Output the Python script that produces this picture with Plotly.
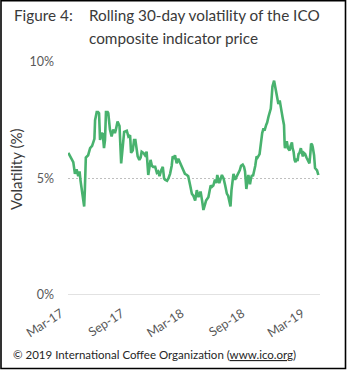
import plotly.graph_objects as go

dates = [
"2017-02-24","2017-03-04","2017-03-11","2017-03-16","2017-03-21","2017-03-26","2017-03-30","2017-04-02","2017-04-06","2017-04-10",
"2017-04-13","2017-04-15","2017-04-18","2017-04-25","2017-05-01","2017-05-07","2017-05-11","2017-05-14","2017-05-16","2017-05-21",
"2017-05-25","2017-05-28","2017-05-31","2017-06-04","2017-06-08","2017-06-12","2017-06-15","2017-06-18","2017-06-23","2017-06-25",
"2017-06-30","2017-07-05","2017-07-10","2017-07-15","2017-07-18","2017-07-23","2017-07-26","2017-07-29","2017-08-03","2017-08-08",
"2017-08-12","2017-08-20","2017-08-25","2017-08-30","2017-09-02","2017-09-07","2017-09-11","2017-09-15","2017-09-19","2017-09-22",
"2017-09-27","2017-10-01","2017-10-04","2017-10-09","2017-10-14","2017-10-19","2017-10-24","2017-10-28","2017-10-31","2017-11-04",
"2017-11-08","2017-11-14","2017-11-19","2017-11-23","2017-11-27","2017-12-02","2017-12-07","2017-12-11","2017-12-14","2017-12-20",
"2017-12-24","2017-12-29","2018-01-03","2018-01-06","2018-01-10","2018-01-13","2018-01-18","2018-01-23","2018-01-28","2018-02-02",
"2018-02-07","2018-02-12","2018-02-18","2018-02-22","2018-02-28","2018-03-05","2018-03-10","2018-03-15","2018-03-20","2018-03-25",
"2018-03-30","2018-04-01","2018-04-05","2018-04-09","2018-04-13","2018-04-17","2018-04-24","2018-04-29","2018-05-01","2018-05-05",
"2018-05-09","2018-05-14","2018-05-18","2018-05-21","2018-05-24","2018-05-27","2018-06-04","2018-06-09","2018-06-14","2018-06-19",
"2018-06-23","2018-06-27","2018-06-30","2018-07-03","2018-07-07","2018-07-09","2018-07-14","2018-07-19","2018-07-24","2018-07-28",
"2018-08-01","2018-08-06","2018-08-10","2018-08-13","2018-08-17","2018-08-20","2018-08-23","2018-08-26","2018-08-28","2018-08-31",
"2018-09-03","2018-09-06","2018-09-10","2018-09-13","2018-09-17","2018-09-20","2018-09-26","2018-09-29","2018-10-01","2018-10-04",
"2018-10-08","2018-10-11","2018-10-16","2018-10-19","2018-10-23","2018-10-26","2018-10-30","2018-11-02","2018-11-04","2018-11-09",
"2018-11-12","2018-11-15","2018-11-18","2018-11-22","2018-11-26","2018-11-29","2018-12-02","2018-12-05","2018-12-09","2018-12-11",
"2018-12-12","2018-12-15","2018-12-18","2018-12-21","2018-12-26","2018-12-29","2019-01-02","2019-01-04","2019-01-07","2019-01-10",
"2019-01-13","2019-01-16","2019-01-19","2019-01-22","2019-01-25","2019-01-29","2019-02-01","2019-02-04","2019-02-07","2019-02-11",
"2019-02-15","2019-02-18","2019-02-21","2019-02-24","2019-02-27","2019-03-01","2019-03-04","2019-03-06","2019-03-10","2019-03-13",
"2019-03-19","2019-03-21","2019-03-23",
]

volatility = [
6.10,5.90,5.70,5.20,5.40,5.10,5.30,4.90,4.40,4.10,
3.80,4.50,5.90,6.00,6.30,6.40,6.60,6.70,7.50,7.85,
7.85,7.80,6.65,6.90,6.95,6.30,6.65,7.85,7.85,7.80,
7.10,6.80,7.10,6.95,7.10,7.45,7.35,7.25,5.65,6.35,
7.00,7.05,6.80,6.85,6.10,6.20,6.65,6.65,6.30,5.95,
5.80,5.90,6.15,6.10,6.00,6.15,5.15,5.45,5.80,5.55,
5.50,5.50,5.25,5.30,5.10,5.35,5.50,5.00,4.95,4.90,
5.00,5.20,5.55,5.95,5.90,6.00,5.65,5.85,5.70,5.50,
5.35,5.20,5.15,5.10,4.70,4.35,4.25,4.05,4.50,4.20,
4.40,4.40,4.05,3.65,3.85,4.05,4.20,4.50,4.70,4.65,
4.70,4.95,4.80,5.15,4.95,4.80,5.15,5.00,4.70,4.35,
4.25,4.05,3.80,4.50,5.15,5.20,4.95,5.10,5.20,5.35,
5.55,5.60,5.50,5.30,4.55,4.95,5.15,4.95,4.75,5.00,
5.15,5.10,5.30,5.55,5.95,5.90,6.05,6.40,6.65,6.95,
7.15,7.05,7.30,7.40,7.65,7.85,8.00,8.55,8.95,9.20,
8.95,8.65,8.45,8.20,8.35,8.00,7.85,7.60,7.30,6.45,
6.30,6.55,6.55,6.30,6.20,6.40,6.55,6.30,6.15,5.80,
5.70,5.85,5.75,6.05,6.10,6.30,6.10,5.95,6.10,6.05,
5.90,5.80,5.70,5.65,6.10,6.50,6.45,6.35,6.00,5.45,
5.35,5.20,5.15,
]

y_ticks = [0, 5, 10]
y_tick_labels = ["0%", "5%", "10%"]
x_ticks = ["2017-03-01", "2017-09-01", "2018-03-01", "2018-09-01", "2019-03-01"]
x_tick_labels = ["Mar-17", "Sep-17", "Mar-18", "Sep-18", "Mar-19"]

W, H = 347, 371
L, R, T, B = 68, 27, 62, 76
PW, PH = W - L - R, H - T - B

def px(x):
    return (x - L) / PW

def py(y):
    return (H - B - y) / PH

FONT = "Lato"
GRAY = "#595959"

fig = go.Figure()
fig.add_trace(go.Scatter(
    x=dates, y=volatility, mode="lines",
    line=dict(color="rgb(72,178,110)", width=2.6),
    hoverinfo="skip", showlegend=False,
))

fig.update_layout(
    width=W, height=H,
    margin=dict(l=L, r=R, t=T, b=B),
    paper_bgcolor="white", plot_bgcolor="white",
    font=dict(family=FONT, color=GRAY, size=12),
    xaxis=dict(
        type="date", range=["2017-02-23", "2019-03-28"],
        tickvals=x_ticks, ticktext=x_tick_labels, tickangle=-33,
        showgrid=False, zeroline=False, showline=False, ticks="",
        ticklabelstandoff=8, ticklabelshift=-9,
        tickfont=dict(family=FONT, size=12.5, color=GRAY),
    ),
    yaxis=dict(
        range=[0, 10], tickvals=y_ticks, ticktext=y_tick_labels,
        showgrid=True, gridcolor="#bfbfbf", griddash="2px,2px", gridwidth=1.3,
        zeroline=False, showline=False, ticks="",
        ticklabelstandoff=13,
        tickfont=dict(family=FONT, size=12.5, color=GRAY),
    ),
)

# solid baseline at 0%
fig.add_shape(type="line", xref="paper", yref="y", x0=0, x1=1, y0=0, y1=0,
              line=dict(color="#d9d9d9", width=1.5), layer="below")

# outer frame
fig.add_shape(type="rect", xref="paper", yref="paper",
              x0=px(1), x1=px(345.5), y0=py(368.5), y1=py(0.7),
              line=dict(color="black", width=1.6))

title_color = "#3a3a3a"
fig.add_annotation(xref="paper", yref="paper", x=px(12), y=py(15), xanchor="left", yanchor="middle",
                   text="Figure 4:", showarrow=False, font=dict(family=FONT, size=15.3, color=title_color))
fig.add_annotation(xref="paper", yref="paper", x=px(87), y=py(15), xanchor="left", yanchor="middle",
                   text="Rolling 30-day volatility of the ICO", showarrow=False,
                   font=dict(family=FONT, size=15.3, color=title_color))
fig.add_annotation(xref="paper", yref="paper", x=px(87), y=py(38), xanchor="left", yanchor="middle",
                   text="composite indicator price", showarrow=False,
                   font=dict(family=FONT, size=15.3, color=title_color))

fig.add_annotation(xref="paper", yref="paper", x=px(16), y=py(170), xanchor="center", yanchor="middle",
                   text="Volatility (%)", textangle=-90, showarrow=False,
                   font=dict(family=FONT, size=15, color=title_color))

fig.add_annotation(xref="paper", yref="paper", x=px(11), y=py(354), xanchor="left", yanchor="middle",
                   text="© 2019 International Coffee Organization (<u>www.ico.org</u>)", showarrow=False,
                   font=dict(family=FONT, size=11.5, color="#262626"))

fig.write_html("out.html")
